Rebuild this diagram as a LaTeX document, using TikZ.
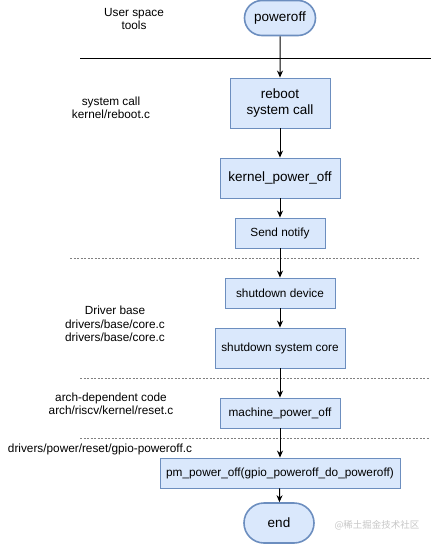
\documentclass[tikz,border=0pt]{standalone}
\usepackage{fontspec}
\setmainfont{Liberation Sans}
\newfontfamily\cjk{Noto Sans CJK SC}
\usetikzlibrary{calc, arrows.meta, shapes.misc}

\definecolor{boxfill}{HTML}{DAE8FC}
\definecolor{boxline}{HTML}{6C8EBF}

\tikzset{
  funcbox/.style={draw=boxline, fill=boxfill, line width=0.9pt, inner sep=0pt, align=center},
  termbox/.style={draw=boxline, fill=boxfill, line width=1.6pt, rounded rectangle, inner sep=0pt,
    font=\fontsize{13.5}{15}\selectfont},
  bigtxt/.style={font=\fontsize{13.5}{16}\selectfont},
  smalltxt/.style={font=\fontsize{11.8}{13}\selectfont},
  layertxt/.style={align=center, inner sep=0pt, font=\fontsize{11.8}{13.5}\selectfont},
  flow/.style={line width=1pt, -{Stealth[length=7pt, width=6pt]}},
  layerline/.style={gray, line width=0.6pt, dash pattern=on 2pt off 1.5pt}
}

\begin{document}
\begin{tikzpicture}[x=1pt, y=-1pt]
  \useasboundingbox (0,0) rectangle (432,544);

  % confini tra i livelli
  \draw[line width=0.9pt] (80,58) -- (431,58);
  \draw[layerline] (70,258) -- (420,258);
  \draw[layerline] (80,378) -- (430,378);
  \draw[layerline] (80,438) -- (430,438);

  % etichette dei livelli
  \node[layertxt] (lUser) at (134,19) {User space\\tools};
  \node[layertxt] (lSys) at (111,108) {system call\\kernel/reboot.c};
  \node[layertxt] (lDrv) at (115,324) {Driver base\\drivers/base/core.c\\drivers/base/core.c};
  \node[layertxt] (lArch) at (111,404) {arch-dependent code\\arch/riscv/kernel/reset.c};
  \node[layertxt] (lGpio) at (100,449) {drivers/power/reset/gpio-poweroff.c};

  % blocchi
  \node[termbox, minimum width=71pt, minimum height=35pt] (poweroff) at (280,18) {poweroff};
  \node[funcbox, bigtxt, minimum width=100pt, minimum height=50pt] (reboot) at (280,103) {reboot\\system call};
  \node[funcbox, bigtxt, minimum width=120pt, minimum height=40pt] (kpoff) at (280,178) {kernel\_power\_off};
  \node[funcbox, smalltxt, minimum width=90pt, minimum height=30pt] (notify) at (280,233) {Send notify};
  \node[funcbox, smalltxt, minimum width=110pt, minimum height=30pt] (sdev) at (280,293) {shutdown device};
  \node[funcbox, smalltxt, minimum width=130pt, minimum height=40pt] (score) at (280,348) {shutdown system core};
  \node[funcbox, smalltxt, minimum width=120pt, minimum height=30pt] (mpoff) at (280,413) {machine\_power\_off};
  \node[funcbox, smalltxt, minimum width=240pt, minimum height=30pt] (pmpoff) at (280,473) {pm\_power\_off(gpio\_poweroff\_do\_poweroff)};
  \node[termbox, minimum width=70pt, minimum height=40pt] (end) at (279,523) {end};

  % frecce
  \draw[flow] (poweroff) -- (reboot);
  \draw[flow] (reboot) -- (kpoff);
  \draw[flow] (kpoff) -- (notify);
  \draw[flow] (notify) -- (sdev);
  \draw[flow] (sdev) -- (score);
  \draw[flow] (score) -- (mpoff);
  \draw[flow] (mpoff) -- (pmpoff);
  \draw[flow] (pmpoff) -- (end);

  % filigrana
  \node[gray!45, font=\cjk\fontsize{9.5}{11}\selectfont] (wmark) at (377,525) {@稀土掘金技术社区};
\end{tikzpicture}
\end{document}
